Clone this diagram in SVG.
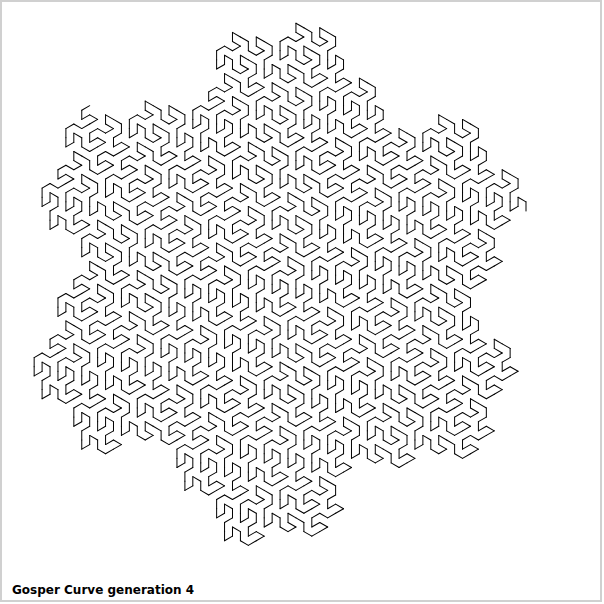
<svg xmlns="http://www.w3.org/2000/svg" width="604" height="604" viewBox="0 0 604 604">
<style>
.curve { fill: none; stroke: #000000; stroke-linecap: round; stroke-linejoin: round; }
.title { font-family: "DejaVu Sans", "Liberation Sans", sans-serif; font-weight: bold; font-size: 12px; fill: #000000; }
</style>
<defs>
<line id="g0" x1="0" y1="0" x2="1" y2="0"/>
<g id="g1">
<use href="#g0" transform="matrix(0.3571429 0.1237179 -0.1237179 0.3571429 0 0)"/>
<use href="#g0" transform="matrix(-0.2857143 0.2474358 -0.2474358 -0.2857143 0.6428571 -0.1237179)"/>
<use href="#g0" transform="matrix(0.3571429 0.1237179 -0.1237179 0.3571429 0.2857143 -0.2474358)"/>
<use href="#g0" transform="matrix(-0.0714286 -0.3711537 0.3711537 -0.0714286 0.2857143 -0.2474358)"/>
<use href="#g0" transform="matrix(0.3571429 0.1237179 -0.1237179 0.3571429 0.2142857 -0.6185896)"/>
<use href="#g0" transform="matrix(0.3571429 0.1237179 -0.1237179 0.3571429 0.5714286 -0.4948717)"/>
<use href="#g0" transform="matrix(-0.0714286 -0.3711537 0.3711537 -0.0714286 1 0)"/>
</g>
<g id="g2">
<use href="#g1" transform="matrix(0.3571429 0.1237179 -0.1237179 0.3571429 0 0)"/>
<use href="#g1" transform="matrix(-0.2857143 0.2474358 -0.2474358 -0.2857143 0.6428571 -0.1237179)"/>
<use href="#g1" transform="matrix(0.3571429 0.1237179 -0.1237179 0.3571429 0.2857143 -0.2474358)"/>
<use href="#g1" transform="matrix(-0.0714286 -0.3711537 0.3711537 -0.0714286 0.2857143 -0.2474358)"/>
<use href="#g1" transform="matrix(0.3571429 0.1237179 -0.1237179 0.3571429 0.2142857 -0.6185896)"/>
<use href="#g1" transform="matrix(0.3571429 0.1237179 -0.1237179 0.3571429 0.5714286 -0.4948717)"/>
<use href="#g1" transform="matrix(-0.0714286 -0.3711537 0.3711537 -0.0714286 1 0)"/>
</g>
<g id="g3">
<use href="#g2" transform="matrix(0.3571429 0.1237179 -0.1237179 0.3571429 0 0)"/>
<use href="#g2" transform="matrix(-0.2857143 0.2474358 -0.2474358 -0.2857143 0.6428571 -0.1237179)"/>
<use href="#g2" transform="matrix(0.3571429 0.1237179 -0.1237179 0.3571429 0.2857143 -0.2474358)"/>
<use href="#g2" transform="matrix(-0.0714286 -0.3711537 0.3711537 -0.0714286 0.2857143 -0.2474358)"/>
<use href="#g2" transform="matrix(0.3571429 0.1237179 -0.1237179 0.3571429 0.2142857 -0.6185896)"/>
<use href="#g2" transform="matrix(0.3571429 0.1237179 -0.1237179 0.3571429 0.5714286 -0.4948717)"/>
<use href="#g2" transform="matrix(-0.0714286 -0.3711537 0.3711537 -0.0714286 1 0)"/>
</g>
<g id="g4">
<use href="#g3" transform="matrix(0.3571429 0.1237179 -0.1237179 0.3571429 0 0)"/>
<use href="#g3" transform="matrix(-0.2857143 0.2474358 -0.2474358 -0.2857143 0.6428571 -0.1237179)"/>
<use href="#g3" transform="matrix(0.3571429 0.1237179 -0.1237179 0.3571429 0.2857143 -0.2474358)"/>
<use href="#g3" transform="matrix(-0.0714286 -0.3711537 0.3711537 -0.0714286 0.2857143 -0.2474358)"/>
<use href="#g3" transform="matrix(0.3571429 0.1237179 -0.1237179 0.3571429 0.2142857 -0.6185896)"/>
<use href="#g3" transform="matrix(0.3571429 0.1237179 -0.1237179 0.3571429 0.5714286 -0.4948717)"/>
<use href="#g3" transform="matrix(-0.0714286 -0.3711537 0.3711537 -0.0714286 1 0)"/>
</g>
</defs>
<rect x="0" y="0" width="604" height="604" fill="#ffffff"/>
<rect x="1" y="1" width="600" height="600" fill="#ffffff" stroke="#d0d0d0" stroke-width="2"/>
<g id="gosper-curve" class="curve" stroke-width="0.109" transform="matrix(-436.31 -105.33 105.33 -436.31 526 211)">
<use href="#g4"/>
</g>
<text class="title" x="12" y="594">Gosper Curve generation 4</text>
</svg>
